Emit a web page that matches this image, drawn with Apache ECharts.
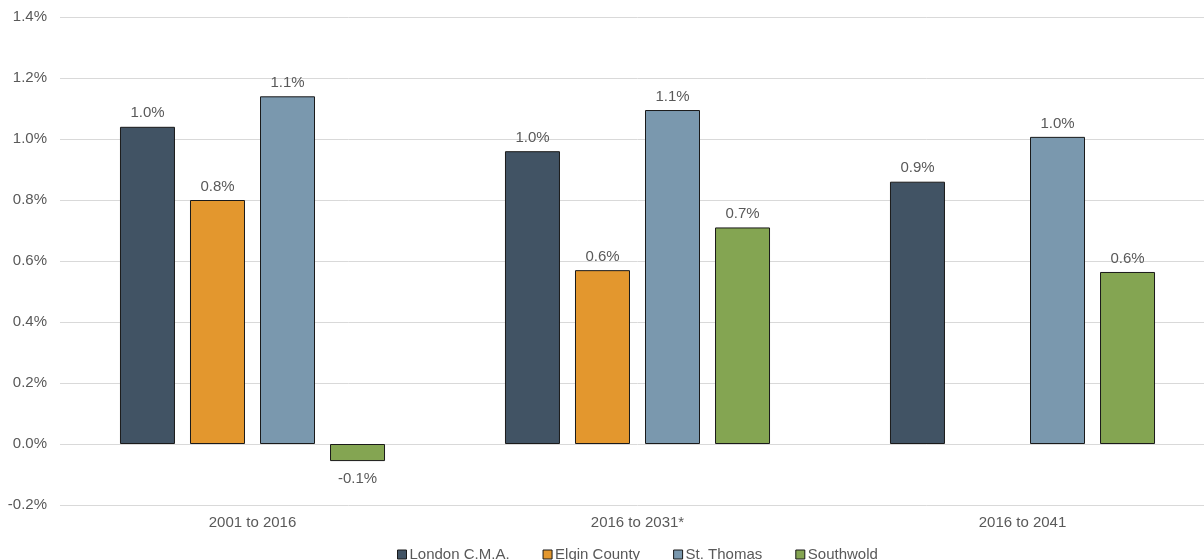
<!DOCTYPE html>
<html>
<head>
<meta charset="utf-8">
<script src="https://cdn.jsdelivr.net/npm/echarts@6/dist/echarts.min.js"></script>
<style>
  html, body { margin: 0; padding: 0; background: #fff; overflow: hidden; }
  #chart { width: 1220px; height: 560px; }
</style>
</head>
<body>
<div id="chart"></div>
<script>
// Average annual population growth rate (%)
const periods = ['2001 to 2016', '2016 to 2031*', '2016 to 2041'];
const seriesNames = ['London C.M.A.', 'Elgin County', 'St. Thomas', 'Southwold'];
const londonCMA = [1.04, 0.96, 0.86];
const elginCounty = [0.80, 0.57, null];
const stThomas = [1.14, 1.095, 1.007];
const southwold = [-0.056, 0.71, 0.564];
const yTicks = [-0.2, 0, 0.2, 0.4, 0.6, 0.8, 1.0, 1.2, 1.4];

const colors = ['#415364', '#E3972E', '#7A98AE', '#84A552'];
const values = [londonCMA, elginCounty, stThomas, southwold];

const textColor = '#595959';
const font = 'Liberation Sans, Arial, sans-serif';
const fs = 15;

const chart = echarts.init(document.getElementById('chart'));
chart.setOption({
  animation: false,
  textStyle: { fontFamily: font },
  grid: { left: 60, top: 17, width: 1155, height: 488, containLabel: false },
  legend: {
    top: 542,
    left: 392,
    itemWidth: 9,
    itemHeight: 9,
    itemGap: 33,
    textStyle: { color: textColor, fontSize: fs, padding: [0, 0, 0, -2] },
    data: seriesNames.map((n, i) => ({
      name: n,
      icon: 'rect',
      itemStyle: { color: colors[i], borderColor: '#1a1a1a', borderWidth: 1 }
    }))
  },
  xAxis: {
    type: 'category',
    data: periods,
    axisLine: { show: false },
    axisTick: { show: false },
    axisLabel: { color: textColor, fontSize: fs, margin: 0 },
    position: 'bottom',
    offset: 10
  },
  yAxis: {
    type: 'value',
    min: yTicks[0],
    max: yTicks[yTicks.length - 1],
    interval: 0.2,
    axisLine: { show: false },
    axisTick: { show: false },
    splitLine: { lineStyle: { color: '#d9d9d9', width: 1 } },
    axisLabel: {
      color: textColor, fontSize: fs, margin: 13,
      formatter: v => v.toFixed(1) + '%'
    }
  },
  series: seriesNames.map((name, i) => ({
    name: name,
    type: 'bar',
    barWidth: 55,
    barGap: '27.3%',
    itemStyle: { color: colors[i], borderColor: '#1a1a1a', borderWidth: 1 },
    label: {
      show: true,
      position: 'top',
      distance: 6,
      color: textColor,
      fontSize: fs,
      formatter: p => (p.value == null ? '' : p.value.toFixed(1) + '%')
    },
    // negative bars carry their label below the bar
    data: values[i].map(v => v != null && v < 0
      ? { value: v, label: { position: 'bottom', distance: 10 } }
      : v)
  }))
});
</script>
</body>
</html>
